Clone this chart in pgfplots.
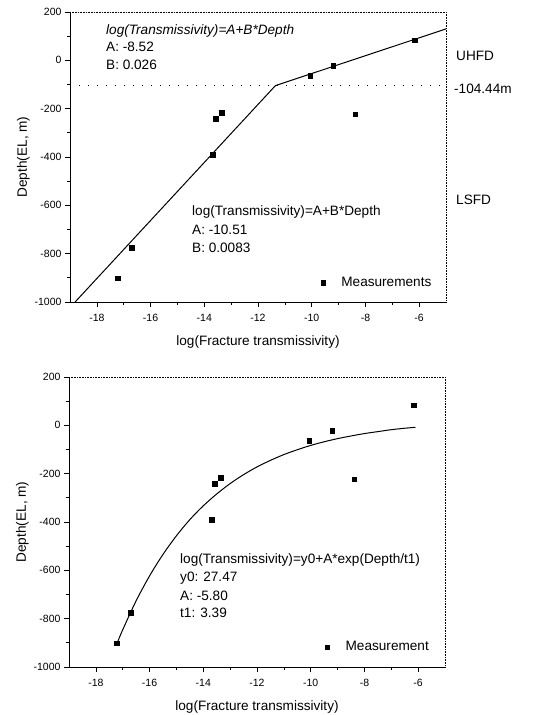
\documentclass[border=0pt]{standalone}
\usepackage{fontspec}
\setmainfont{Liberation Sans}
\usepackage{pgfplots}
\pgfplotsset{compat=1.18}

\pgfplotstableread{
x      y
-17.22 -902
-16.70 -775
-13.68 -391
-13.57 -242
-13.35 -217
-10.05 -63
-9.20  -22
-8.37  -224
-6.16  84
}\meas

\pgfplotsset{
  depthaxis/.style={
    scale only axis,
    width=376pt, height=290pt,
    anchor=south west,
    xmin=-19, xmax=-5, ymin=-1000, ymax=200,
    xtick={-18,-16,...,-6}, ytick={-1000,-800,...,200},
    minor tick num=1,
    axis lines=left,
    axis line style={-, line width=0.8pt},
    tick align=outside,
    major tick length=5pt, minor tick length=3pt,
    every tick/.style={black, line width=0.7pt},
    tick label style={font=\fontsize{10.5}{12}\selectfont},
    xticklabel style={yshift=-4pt},
    /pgf/number format/assume math mode=true,
    /pgf/number format/set thousands separator={},
    label style={font=\fontsize{13.6}{16}\selectfont},
    xlabel={log(Fracture transmissivity)},
    ylabel={Depth(EL, m)},
    xlabel style={yshift=-7pt},
    ylabel style={yshift=-2pt},
    clip=false,
    legend image code/.code={\draw[##1] plot coordinates {(0pt,0pt)};},
    legend style={draw=none, fill=none, inner sep=0pt,
      nodes={inner sep=0pt},
      /tikz/every odd column/.append style={column sep=16pt},
      font=\fontsize{13.6}{16}\selectfont, anchor=west},
  },
  measmark/.style={only marks, mark=square*, mark size=2.2pt, black},
}

\begin{document}
\begin{tikzpicture}[x=1pt, y=1pt]
\useasboundingbox (0,0) rectangle (540,-715);

% upper panel: piecewise linear fit
\begin{axis}[depthaxis, at={(70pt,-302pt)},
  legend style={at={(rel axis cs:0.667,0.066)}}]
\addplot[measmark] table {\meas};
\addlegendentry{Measurements}
\addplot[black, line width=1pt, forget plot] coordinates {
  (-18.81,-1000) (-11.35,-104.44) (-5,130)};
\addplot[black, line width=1.3pt, dash pattern=on 1.3pt off 7.7pt, forget plot]
  coordinates {(-19,-104.44) (-5,-104.44)};
\draw[line width=0.6pt, densely dotted] (rel axis cs:0,1) -- (rel axis cs:1,1) -- (rel axis cs:1,0);
\end{axis}

% lower panel: exponential fit
\begin{axis}[depthaxis, at={(69pt,-667pt)},
  legend style={at={(rel axis cs:0.681,0.069)}}]
\addplot[measmark] table {\meas};
\addlegendentry{Measurement}
\addplot[black, line width=1pt, smooth, forget plot] coordinates {
  (-17.2,-899) (-17.0,-846) (-16.5,-726) (-16.0,-623) (-15.5,-534)
  (-15.0,-457) (-14.5,-390) (-14.0,-333) (-13.5,-284) (-13.0,-241)
  (-12.5,-204) (-12.0,-172) (-11.5,-145) (-11.0,-121) (-10.5,-101)
  (-10.0,-83) (-9.5,-68) (-9.0,-55) (-8.5,-44) (-8.0,-34)
  (-7.5,-26) (-7.0,-18) (-6.5,-12) (-6.1,-8)};
\draw[line width=0.6pt, densely dotted] (rel axis cs:0,1) -- (rel axis cs:1,1) -- (rel axis cs:1,0);
\end{axis}

\begin{scope}[every node/.style={anchor=west, inner sep=0pt, font=\fontsize{13.6}{16}\selectfont}]
\node at (106,-30.7) {\itshape log(Transmissivity)=A+B*Depth};
\node at (106,-47.3) {A: -8.52};
\node at (106,-65) {B: 0.026};
\node at (192,-212) {log(Transmissivity)=A+B*Depth};
\node at (192,-230) {A: -10.51};
\node at (192,-248) {B: 0.0083};
\node at (456,-56) {UHFD};
\node at (454,-89) {-104.44m};
\node at (456,-200) {LSFD};
\node at (180,-560) {log(Transmissivity)=y0+A*exp(Depth/t1)};
\node at (180,-578) {y0: 27.47};
\node at (180,-596) {A: -5.80};
\node at (180,-613) {t1: 3.39};
\end{scope}
\end{tikzpicture}
\end{document}
